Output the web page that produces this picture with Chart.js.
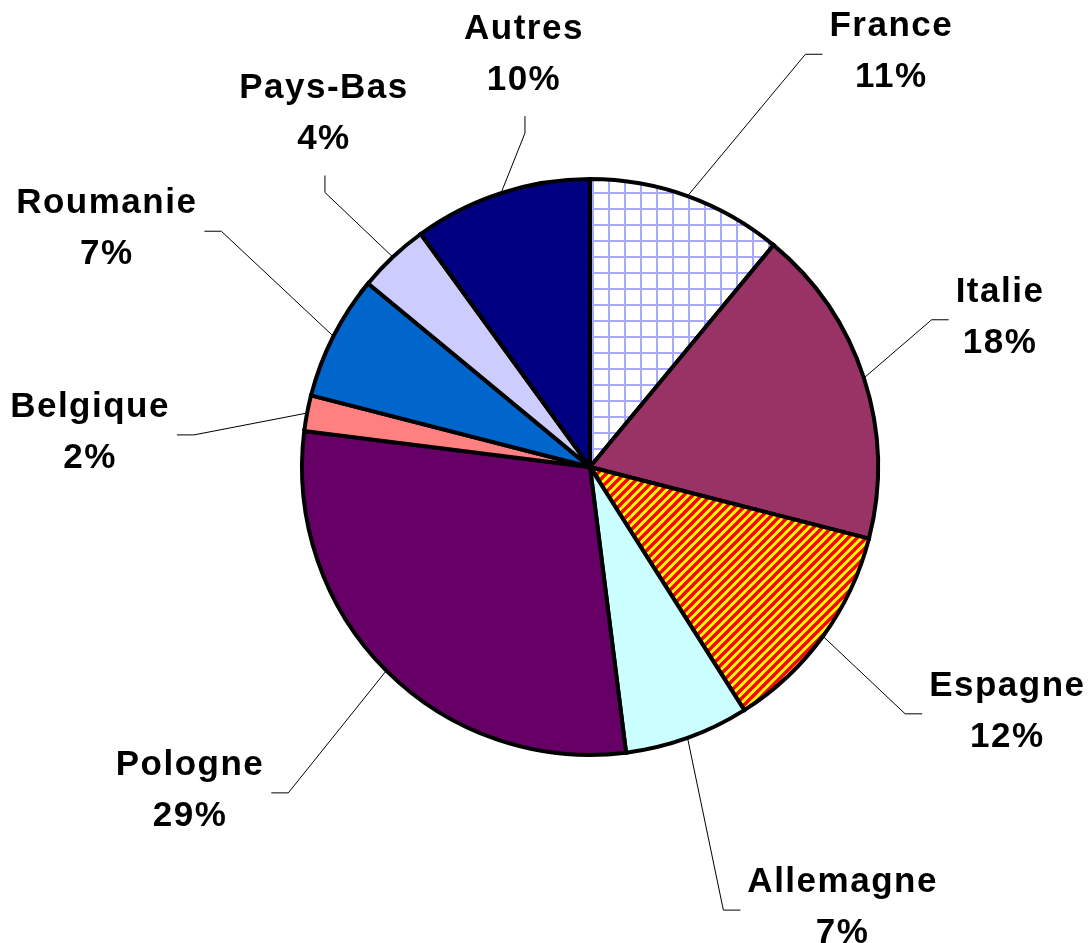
<!DOCTYPE html>
<html>
<head>
<meta charset="utf-8">
<script src="https://cdn.jsdelivr.net/npm/chart.js@4"></script>
<style>
  html, body { margin: 0; padding: 0; background: #fff; }
  #wrap { width: 1090px; height: 943px; }
</style>
</head>
<body>
<div id="wrap"><canvas id="mycanvas" width="1090" height="943"></canvas></div>
<script>
// data
var pays = ["France", "Italie", "Espagne", "Allemagne", "Pologne", "Belgique", "Roumanie", "Pays-Bas", "Autres"];
var parts = [11, 18, 12, 7, 29, 2, 7, 4, 10];

// label placement: [angle shift from slice middle (deg), distance / radius, leader direction]
var labelPlace = [
  [16.2, 1.78, "h"], [-2.0, 1.515, "h"], [-5.6, 1.68, "h"], [-10.0, 1.765, "h"], [6.0, 1.787, "h"],
  [-6.9, 1.74, "h"], [-0.8, 1.87, "h"], [6.2, 1.535, "v"], [8.9, 1.45, "v"]
];

function gridPattern() {
  var c = document.createElement("canvas");
  c.width = 16; c.height = 16;
  var g = c.getContext("2d");
  g.fillStyle = "#ffffff";
  g.fillRect(0, 0, 16, 16);
  g.fillStyle = "#a8a8ff";
  g.fillRect(0, 0, 2, 16);
  g.fillRect(0, 0, 16, 2);
  return g.createPattern(c, "repeat");
}

function stripePattern() {
  var n = 9;
  var c = document.createElement("canvas");
  c.width = n; c.height = n;
  var g = c.getContext("2d");
  g.fillStyle = "#ffff00";
  g.fillRect(0, 0, n, n);
  g.strokeStyle = "#ff0000";
  g.lineWidth = 3.4;
  [-n, 0, n].forEach(function(x0) {
    g.beginPath();
    g.moveTo(x0 - 2, n + 2);
    g.lineTo(x0 + n + 2, -2);
    g.stroke();
  });
  return g.createPattern(c, "repeat");
}

var ctxC = document.getElementById("mycanvas").getContext("2d");
var colours = [gridPattern(), "#993366", stripePattern(), "#ccffff", "#660066", "#ff8080", "#0066cc", "#ccccff", "#000080"];

var labelPlugin = {
  id: "labels",
  afterDraw: function(chart) {
    var ctx = chart.ctx;
    var arcs = chart.getDatasetMeta(0).data;
    ctx.save();
    ctx.font = 'bold 35px "Liberation Sans", Arial, sans-serif';
    try { ctx.letterSpacing = "1.5px"; } catch (e) {}
    ctx.textAlign = "center";
    ctx.textBaseline = "middle";
    ctx.strokeStyle = "#000";
    ctx.lineWidth = 1;
    for (var i = 0; i < arcs.length; i++) {
      var a = arcs[i];
      var mid = (a.startAngle + a.endAngle) / 2;
      var r = a.outerRadius;
      var lp = labelPlace[i];
      var ang = mid + lp[0] * Math.PI / 180;
      var cx = a.x + Math.cos(ang) * r * lp[1];
      var cy = a.y + Math.sin(ang) * r * lp[1];
      var pct = parts[i] + "%";
      var w = Math.max(ctx.measureText(pays[i]).width, ctx.measureText(pct).width);

      var sx = a.x + Math.cos(mid) * r;
      var sy = a.y + Math.sin(mid) * r;
      var bx, by, ex, ey;
      if (lp[2] === "h") {
        var right = cx > a.x;
        ex = right ? cx - w / 2 - 7 : cx + w / 2 + 7;
        bx = right ? ex - 17 : ex + 17;
        by = ey = cy + 2;
      } else {
        bx = ex = cx + 1;
        ey = cy + 25.5 + 36;
        by = ey + 17;
      }
      ctx.beginPath();
      ctx.moveTo(sx, sy);
      ctx.lineTo(bx, by);
      ctx.lineTo(ex, ey);
      ctx.stroke();

      ctx.fillStyle = "#000";
      ctx.fillText(pays[i], cx, cy - 25.5);
      ctx.fillText(pct, cx, cy + 25.5);
    }
    ctx.restore();
  }
};

var PieGraph = new Chart(ctxC, {
  type: "pie",
  data: {
    labels: pays,
    datasets: [{
      data: parts,
      backgroundColor: colours,
      borderColor: "#000000",
      borderWidth: 4,
      borderJoinStyle: "miter"
    }]
  },
  options: {
    responsive: false,
    animation: false,
    radius: 288,
    layout: { padding: { left: 100, right: 10, top: 0, bottom: 9 } },
    plugins: {
      legend: { display: false },
      tooltip: { enabled: false }
    }
  },
  plugins: [labelPlugin]
});
</script>
</body>
</html>
